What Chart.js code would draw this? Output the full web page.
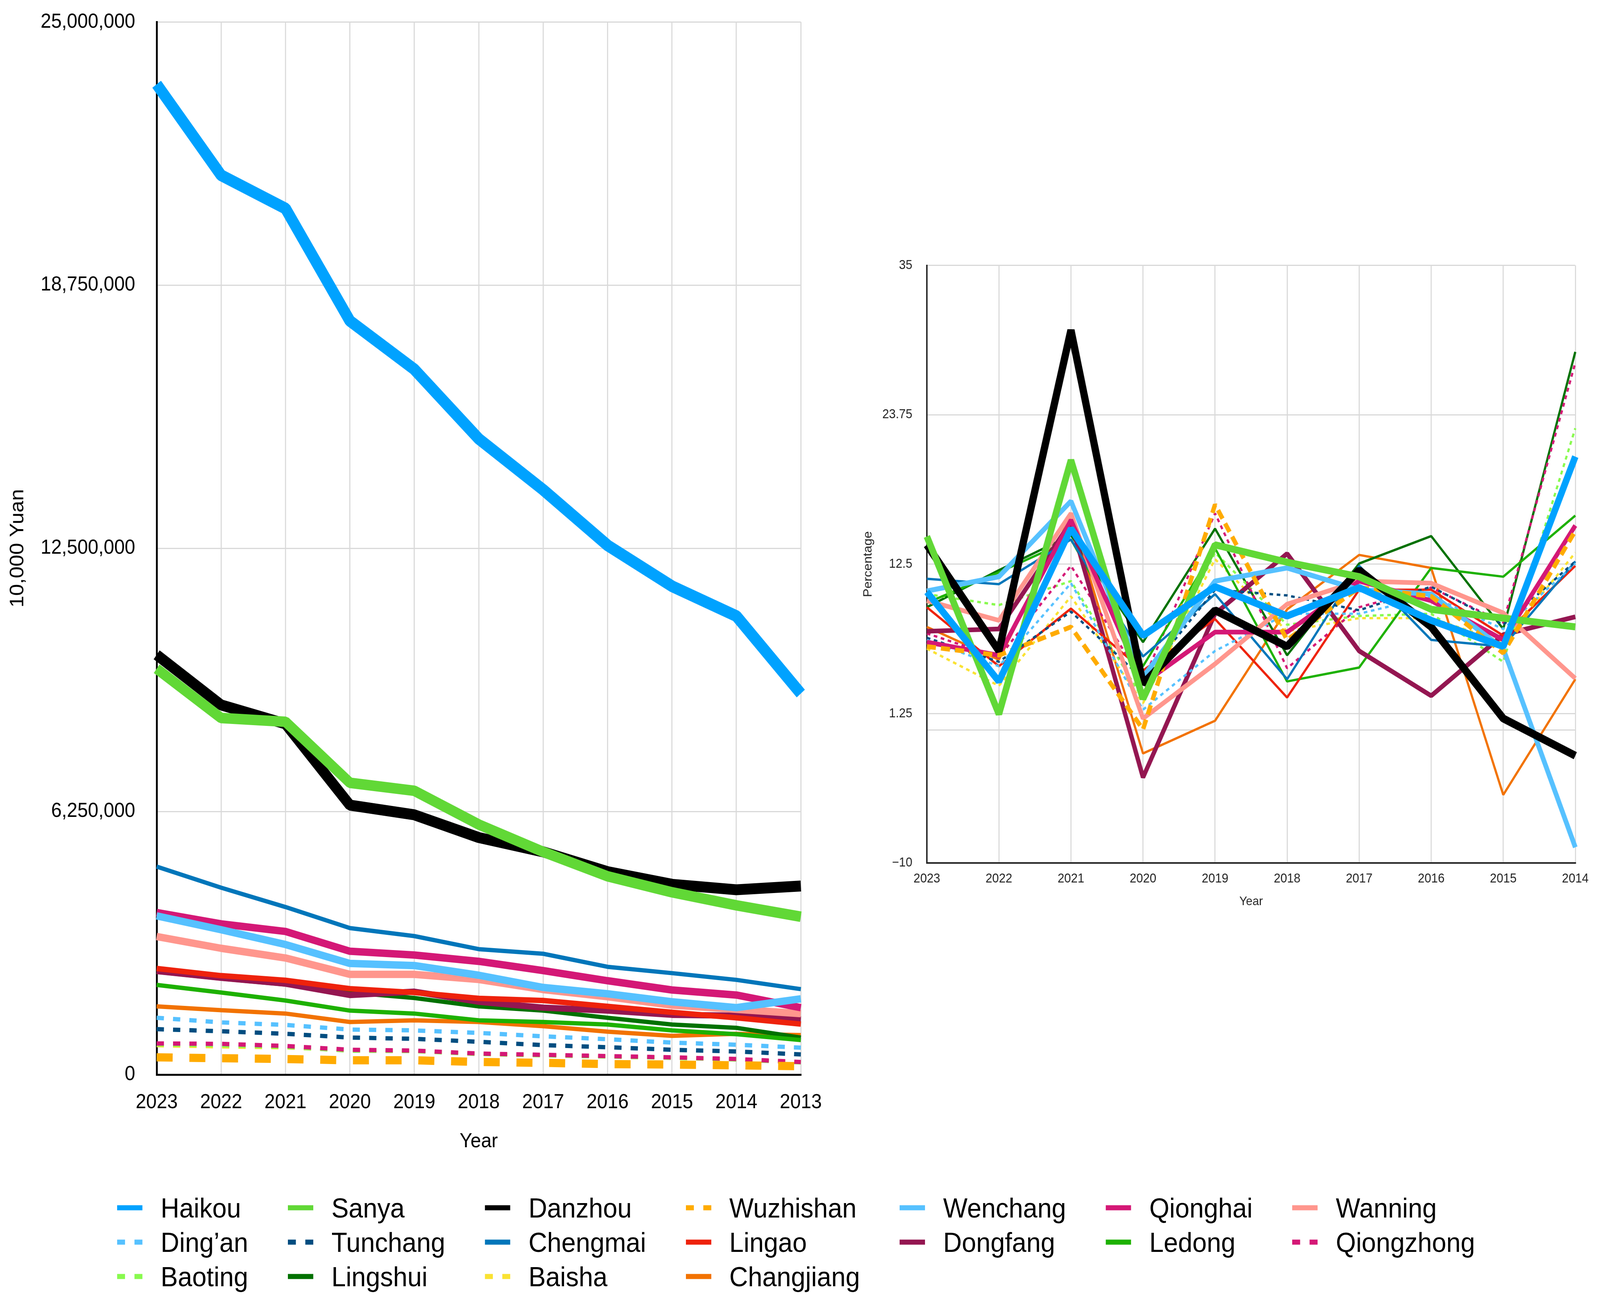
<!DOCTYPE html>
<html>
<head>
<meta charset="utf-8">
<script src="https://cdn.jsdelivr.net/npm/chart.js@4.4.1/dist/chart.umd.min.js"></script>
<style>
  html, body { margin: 0; padding: 0; background: #fff; overflow: hidden; }
  #stage {
    position: absolute;
    left: 0;
    top: 0;
    width: 4402px;
    height: 3342px;
    transform-origin: 0 0;
    font-family: "Liberation Sans", Arial, sans-serif;
  }
  /* Chart.js reserves label overhang + tick padding above the plot, so the box is pulled up */
  #leftBox { position: absolute; left: 0; top: -34px; }
  #rightBox { position: absolute; left: 2330px; top: 620px; }
  #legend {
    position: absolute;
    left: 322px;
    top: 3049px;
    display: grid;
    grid-template-columns: repeat(7, auto);
    column-gap: 109px;
    grid-auto-rows: 88px;
    align-items: center;
  }
  .item { display: flex; align-items: center; font-size: 71px; color: #000; white-space: nowrap; }
  .item svg { margin-right: 50px; flex: none; }
</style>
</head>
<body>
<div id="stage">
  <div id="leftBox"><canvas id="yuanChart" width="2301" height="2989"></canvas></div>
  <div id="rightBox"><canvas id="pctChart" width="2072" height="1720"></canvas></div>
  <div id="legend"></div>
</div>

<script>
// years on the x axes
const yuanYears = ['2023', '2022', '2021', '2020', '2019', '2018', '2017', '2016', '2015', '2014', '2013'];
const pctYears = ['2023', '2022', '2021', '2020', '2019', '2018', '2017', '2016', '2015', '2014'];

const cities = ['Haikou', 'Sanya', 'Danzhou', 'Wuzhishan', 'Wenchang', 'Qionghai', 'Wanning',
                'Ding\u2019an', 'Tunchang', 'Chengmai', 'Lingao', 'Dongfang', 'Ledong', 'Qiongzhong',
                'Baoting', 'Lingshui', 'Baisha', 'Changjiang'];

// left chart, unit: 10,000 Yuan
const haikouYuan     = [23520000, 21360000, 20570000, 17900000, 16750000, 15100000, 13890000, 12570000, 11600000, 10890000, 9050000];
const sanyaYuan      = [9640000, 8470000, 8380000, 6930000, 6740000, 5940000, 5290000, 4710000, 4330000, 4020000, 3750000];
const danzhouYuan    = [9970000, 8780000, 8330000, 6400000, 6170000, 5630000, 5290000, 4820000, 4520000, 4390000, 4480000];
const wuzhishanYuan  = [410000, 390000, 370000, 340000, 340000, 300000, 280000, 250000, 240000, 220000, 200000];
const wenchangYuan   = [3770000, 3440000, 3090000, 2640000, 2590000, 2360000, 2070000, 1920000, 1730000, 1590000, 1800000];
const qionghaiYuan   = [3850000, 3580000, 3400000, 2930000, 2840000, 2690000, 2470000, 2230000, 2010000, 1890000, 1590000];
const wanningYuan    = [3280000, 3000000, 2770000, 2380000, 2380000, 2260000, 2020000, 1850000, 1650000, 1550000, 1450000];
const dinganYuan     = [1350000, 1240000, 1180000, 1070000, 1050000, 990000, 910000, 840000, 760000, 710000, 640000];
const tunchangYuan   = [1080000, 1030000, 970000, 880000, 850000, 780000, 700000, 650000, 590000, 550000, 480000];
const chengmaiYuan   = [4940000, 4440000, 3980000, 3480000, 3290000, 2980000, 2870000, 2560000, 2410000, 2250000, 2030000];
const lingaoYuan     = [2520000, 2350000, 2240000, 2040000, 1950000, 1810000, 1760000, 1620000, 1480000, 1350000, 1200000];
const dongfangYuan   = [2460000, 2300000, 2160000, 1890000, 1970000, 1730000, 1590000, 1520000, 1420000, 1400000, 1310000];
const ledongYuan     = [2130000, 1950000, 1760000, 1520000, 1450000, 1290000, 1250000, 1190000, 1050000, 960000, 820000];
const qiongzhongYuan = [740000, 730000, 680000, 590000, 570000, 500000, 470000, 440000, 410000, 370000, 300000];
const baotingYuan    = [710000, 690000, 650000, 560000, 550000, 480000, 450000, 420000, 390000, 350000, 280000];
const lingshuiYuan   = [2440000, 2280000, 2140000, 1950000, 1820000, 1620000, 1520000, 1350000, 1190000, 1110000, 880000];
const baishaYuan     = [690000, 660000, 640000, 570000, 560000, 490000, 460000, 430000, 400000, 360000, 290000];
const changjiangYuan = [1620000, 1530000, 1450000, 1250000, 1290000, 1250000, 1150000, 1020000, 920000, 970000, 940000];

// right chart, growth in percent
const haikouPct     = [10.41, 3.67, 15.18, 7.12, 10.81, 8.60, 10.74, 8.27, 6.30, 20.60];
const sanyaPct      = [14.59, 1.21, 20.34, 2.36, 13.96, 12.65, 11.56, 9.10, 8.44, 7.78];
const danzhouPct    = [13.96, 5.97, 30.13, 3.50, 9.03, 6.30, 12.05, 7.78, 0.88, -1.92];
const wuzhishanPct  = [6.30, 5.64, 7.78, 0.06, 16.99, 6.80, 10.74, 10.08, 5.81, 15.01];
const wenchangPct   = [10.48, 11.56, 17.25, 4.00, 11.23, 12.22, 10.58, 10.25, 6.14, -8.82];
const qionghaiPct   = [6.63, 5.64, 15.83, 3.50, 7.39, 7.39, 11.23, 9.75, 6.80, 15.41];
const wanningPct    = [9.75, 8.27, 16.33, 0.88, 4.99, 9.49, 11.23, 11.07, 8.83, 3.90];
const dinganPct     = [6.80, 4.82, 11.07, 1.54, 5.97, 8.77, 8.77, 10.08, 7.62, 12.55];
const tunchangPct   = [6.96, 5.15, 8.93, 3.84, 10.58, 10.15, 9.03, 10.81, 7.94, 12.71];
const chengmaiPct   = [11.40, 11.00, 14.36, 5.55, 10.25, 3.84, 12.38, 6.80, 6.30, 12.71];
const lingaoPct     = [9.26, 4.82, 9.16, 4.49, 8.37, 2.46, 10.58, 10.58, 7.12, 12.38];
const dongfangPct   = [7.45, 7.62, 15.67, -3.56, 8.77, 13.30, 5.97, 2.59, 7.19, 8.54];
const ledongPct     = [9.59, 11.89, 14.36, 4.82, 13.70, 3.67, 4.72, 12.22, 11.56, 16.16];
const qiongzhongPct = [7.29, 5.48, 12.38, 3.67, 16.33, 4.66, 9.26, 10.74, 8.11, 27.67];
const baotingPct    = [10.25, 9.42, 11.23, 2.36, 13.37, 7.94, 8.60, 8.77, 5.15, 22.74];
const lingshuiPct   = [9.26, 12.05, 14.69, 6.63, 15.18, 5.64, 12.55, 14.62, 7.62, 28.49];
const baishaPct     = [6.14, 3.34, 10.08, 2.03, 12.88, 7.45, 8.44, 8.44, 6.63, 13.37];
const changjiangPct = [7.78, 5.31, 16.16, -1.75, 0.71, 9.10, 13.20, 12.22, -4.87, 3.84];

// tick labels
const yuanTicks = [0, 6250000, 12500000, 18750000, 25000000];
const yuanTickLabels = ['0', '6,250,000', '12,500,000', '18,750,000', '25,000,000'];
const pctTicks = [-10, 0, 1.25, 12.5, 23.75, 35];
const pctTickLabels = ['\u221210', '', '1.25', '12.5', '23.75', '35'];

const yuanSeries = [haikouYuan, sanyaYuan, danzhouYuan, wuzhishanYuan, wenchangYuan, qionghaiYuan, wanningYuan,
                    dinganYuan, tunchangYuan, chengmaiYuan, lingaoYuan, dongfangYuan, ledongYuan, qiongzhongYuan,
                    baotingYuan, lingshuiYuan, baishaYuan, changjiangYuan];
const pctSeries = [haikouPct, sanyaPct, danzhouPct, wuzhishanPct, wenchangPct, qionghaiPct, wanningPct,
                   dinganPct, tunchangPct, chengmaiPct, lingaoPct, dongfangPct, ledongPct, qiongzhongPct,
                   baotingPct, lingshuiPct, baishaPct, changjiangPct];

// colour, widths (left / right chart) and dash per city
const styles = [
  { color: '#00a2ff', w1: 30, w2: 18, dash1: [], dash2: [] },             // Haikou
  { color: '#61d836', w1: 27, w2: 18, dash1: [], dash2: [] },             // Sanya
  { color: '#000000', w1: 28, w2: 20, dash1: [], dash2: [] },             // Danzhou
  { color: '#ffab00', w1: 21, w2: 12, dash1: [44, 46], dash2: [25, 14] }, // Wuzhishan
  { color: '#56c1ff', w1: 19, w2: 13, dash1: [], dash2: [] },             // Wenchang
  { color: '#d41876', w1: 19, w2: 12, dash1: [], dash2: [] },             // Qionghai
  { color: '#ff968d', w1: 19, w2: 12, dash1: [], dash2: [] },             // Wanning
  { color: '#56c1ff', w1: 11, w2: 6, dash1: [20, 25], dash2: [10, 10] },  // Ding'an
  { color: '#004d80', w1: 11, w2: 6, dash1: [20, 25], dash2: [10, 10] },  // Tunchang
  { color: '#0076ba', w1: 11, w2: 6, dash1: [], dash2: [] },              // Chengmai
  { color: '#ee220c', w1: 14, w2: 6, dash1: [], dash2: [] },              // Lingao
  { color: '#941651', w1: 16, w2: 12, dash1: [], dash2: [] },             // Dongfang
  { color: '#1db100', w1: 11, w2: 6, dash1: [], dash2: [] },              // Ledong
  { color: '#d41876', w1: 11, w2: 6, dash1: [20, 25], dash2: [10, 10] },  // Qiongzhong
  { color: '#88fa4e', w1: 9, w2: 6, dash1: [20, 25], dash2: [10, 10] },   // Baoting
  { color: '#017100', w1: 11, w2: 6, dash1: [], dash2: [] },              // Lingshui
  { color: '#fae232', w1: 9, w2: 6, dash1: [20, 25], dash2: [10, 10] },   // Baisha
  { color: '#f27200', w1: 11, w2: 6, dash1: [], dash2: [] }               // Changjiang
];

const fontFamily = '"Liberation Sans", Arial, sans-serif';
const gridColor = '#d9d9d9';

// the window can be narrower than the reference, squeeze the stage to fit
const sx = Math.min(1, (window.innerWidth || 4402) / 4402);
const sy = Math.min(1, (window.innerHeight || 3342) / 3342);
document.getElementById('stage').style.transform = 'scale(' + sx + ',' + sy + ')';

function makeDatasets(series, wKey, dashKey) {
  return cities.map(function (name, i) {
    return {
      label: name,
      data: series[i],
      borderColor: styles[i].color,
      backgroundColor: styles[i].color,
      borderWidth: styles[i][wKey],
      borderDash: styles[i][dashKey],
      borderJoinStyle: 'bevel',
      pointRadius: 0,
      tension: 0,
      fill: false
    };
  });
}

function setTicks(values) {
  return function (scale) {
    scale.ticks = values.map(function (v) { return { value: v }; });
  };
}

new Chart(document.getElementById('yuanChart'), {
  type: 'line',
  data: { labels: yuanYears, datasets: makeDatasets(yuanSeries, 'w1', 'dash1') },
  options: {
    responsive: false,
    devicePixelRatio: 1,
    animation: false,
    layout: { padding: { left: 17, top: 0, right: 0, bottom: 0 } },
    plugins: { legend: { display: false }, tooltip: { enabled: false } },
    scales: {
      x: {
        afterFit: function (scale) { scale.height = 203; },
        grid: { color: gridColor, lineWidth: 3, drawTicks: false },
        border: { color: '#000', width: 5 },
        ticks: { color: '#000', font: { family: fontFamily, size: 52 }, padding: 40, maxRotation: 0, autoSkip: false },
        title: { display: true, text: 'Year', color: '#000', font: { family: fontFamily, size: 52 }, padding: 0 }
      },
      y: {
        min: 0,
        max: 25000000,
        afterFit: function (scale) { scale.width = 414; },
        afterBuildTicks: setTicks(yuanTicks),
        grid: { color: gridColor, lineWidth: 3, drawTicks: false },
        border: { color: '#000', width: 5 },
        ticks: {
          color: '#000',
          font: { family: fontFamily, size: 52 },
          padding: 59,
          callback: function (v) { return yuanTickLabels[yuanTicks.indexOf(v)]; }
        },
        title: { display: true, text: '10,000 Yuan', color: '#000', font: { family: fontFamily, size: 54 }, padding: 0 }
      }
    }
  }
});

new Chart(document.getElementById('pctChart'), {
  type: 'line',
  data: { labels: pctYears, datasets: makeDatasets(pctSeries, 'w2', 'dash2') },
  options: {
    responsive: false,
    devicePixelRatio: 1,
    animation: false,
    layout: { padding: { left: 39, top: 59, right: 68, bottom: 0 } },
    plugins: { legend: { display: false }, tooltip: { enabled: false } },
    scales: {
      x: {
        afterFit: function (scale) { scale.height = 130; },
        grid: { color: gridColor, lineWidth: 3, drawTicks: false },
        border: { color: '#222', width: 4 },
        ticks: { color: '#222', font: { family: fontFamily, size: 33 }, padding: 21, maxRotation: 0, autoSkip: false },
        title: { display: true, text: 'Year', color: '#222', font: { family: fontFamily, size: 32 }, padding: { top: 0, bottom: 12 } }
      },
      y: {
        min: -10,
        max: 35,
        afterFit: function (scale) { scale.width = 181; },
        afterBuildTicks: setTicks(pctTicks),
        grid: { color: gridColor, lineWidth: 3, drawTicks: false },
        border: { color: '#222', width: 4 },
        ticks: {
          color: '#222',
          font: { family: fontFamily, size: 33 },
          padding: 40,
          callback: function (v) { return pctTickLabels[pctTicks.indexOf(v)]; }
        },
        title: { display: true, text: 'Percentage', color: '#222', font: { family: fontFamily, size: 33 }, padding: 0 }
      }
    }
  }
});

// legend, 7 per row, same order as the datasets
const legend = document.getElementById('legend');
cities.forEach(function (name, i) {
  const s = styles[i];
  const dashed = s.dash1.length > 0;
  const item = document.createElement('div');
  item.className = 'item';
  item.innerHTML =
    '<svg width="70" height="14"><line x1="0" y1="7" x2="70" y2="7" stroke="' + s.color +
    '" stroke-width="13"' + (dashed ? ' stroke-dasharray="22 26"' : '') + '/></svg>' +
    '<span>' + name + '</span>';
  legend.appendChild(item);
});
</script>
</body>
</html>
